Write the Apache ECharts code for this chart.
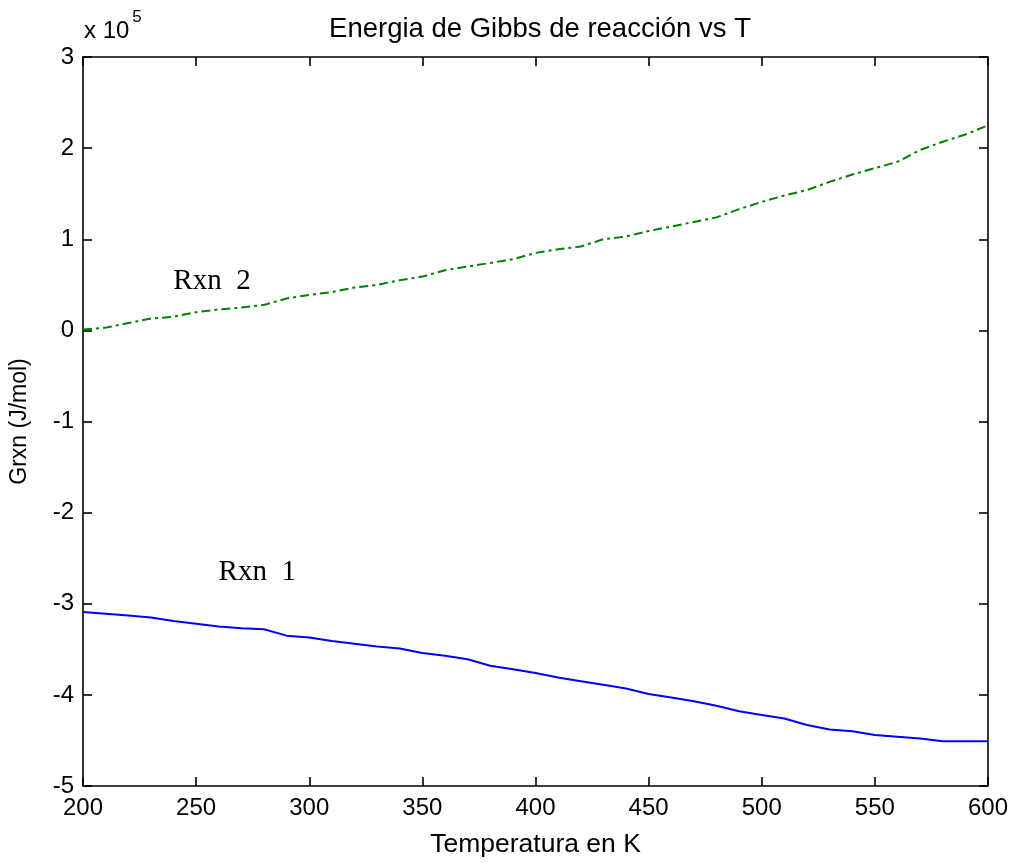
<!DOCTYPE html>
<html>
<head>
<meta charset="utf-8">
<script src="https://cdn.jsdelivr.net/npm/echarts@6/dist/echarts.min.js"></script>
<style>
html,body{margin:0;padding:0;background:#fff;}
#chart{width:1018px;height:863px;}
</style>
</head>
<body>
<div id="chart"></div>
<script>
// Temperatures (K)
var temps = [200,210,220,230,240,250,260,270,280,290,300,310,320,330,340,350,360,370,380,390,400,410,420,430,440,450,460,470,480,490,500,510,520,530,540,550,560,570,580,590,600];
// Rxn 2 Gibbs energy (x 10^5 J/mol)
var rxn2 = [0.01,0.03,0.08,0.13,0.15,0.20,0.23,0.25,0.28,0.35,0.39,0.42,0.47,0.50,0.55,0.59,0.66,0.70,0.74,0.78,0.85,0.89,0.92,1.00,1.03,1.09,1.14,1.19,1.24,1.33,1.41,1.48,1.54,1.63,1.71,1.78,1.85,1.98,2.07,2.15,2.25];
// Rxn 1 Gibbs energy (x 10^5 J/mol)
var rxn1 = [-3.09,-3.11,-3.13,-3.15,-3.19,-3.22,-3.25,-3.27,-3.28,-3.35,-3.37,-3.41,-3.44,-3.47,-3.49,-3.54,-3.57,-3.61,-3.68,-3.72,-3.76,-3.81,-3.85,-3.89,-3.93,-3.99,-4.03,-4.07,-4.12,-4.18,-4.22,-4.26,-4.33,-4.38,-4.40,-4.44,-4.46,-4.48,-4.51,-4.51,-4.51];
var scale = 1e5;
// Annotations [T, value(x10^5), text]
var annotations = [[257, 0.54, 'Rxn  2'], [277, -2.66, 'Rxn  1']];
var titleText = 'Energia de Gibbs de reacción vs T';
var xName = 'Temperatura en K';
var yName = 'Grxn (J/mol)';

function pairs(xs, ys){ return xs.map(function(x,i){ return [x, ys[i]*scale]; }); }

var font = 'Liberation Sans, Arial, sans-serif';
var axisCommon = {
  axisLine:{show:true, onZero:false, lineStyle:{color:'#000', width:1.6}},
  axisTick:{show:true, inside:true, length:9, lineStyle:{color:'#000', width:1.6}},
  splitLine:{show:false}
};
function xAx(pos, labels){
  return Object.assign({
    type:'value', position:pos, min:200, max:600, interval:50,
    axisLabel:{show:labels, color:'#000', fontSize:24, fontFamily:font, margin:10},
    name: labels ? xName : '', nameLocation:'middle', nameGap:45,
    nameTextStyle:{color:'#000', fontSize:26.5, fontFamily:font}
  }, axisCommon);
}
function yAx(pos, labels){
  return Object.assign({
    type:'value', position:pos, min:-5*scale, max:3*scale, interval:scale,
    axisLabel:{show:labels, color:'#000', fontSize:24, fontFamily:font, margin:9,
      formatter:function(v){ return String(Math.round(v/scale)); }},
    name: labels ? yName : '', nameLocation:'middle', nameGap:52, nameRotate:90,
    nameTextStyle:{color:'#000', fontSize:23, fontFamily:font}
  }, axisCommon);
}

var chart = echarts.init(document.getElementById('chart'), null, {renderer:'canvas'});
chart.setOption({
  backgroundColor:'#fff',
  animation:false,
  title:{
    text:titleText, left:535, top:10, textAlign:'center',
    textStyle:{color:'#000', fontSize:27.5, fontWeight:'normal', fontFamily:font}
  },
  grid:{left:82, top:57, right:30, bottom:73, containLabel:false},
  xAxis:[xAx('bottom', true), xAx('top', false)],
  yAxis:[yAx('left', true), yAx('right', false)],
  graphic:[{
    type:'text', left:84, top:9,
    style:{
      text:'{a|x 10}{s|5}',
      rich:{
        a:{fontSize:24, fontFamily:font, fill:'#000', verticalAlign:'bottom', padding:[13,0,0,0]},
        s:{fontSize:17, fontFamily:font, fill:'#000', verticalAlign:'top', padding:[3,0,10,3]}
      }
    }
  }],
  series:[
    {
      type:'line', data:pairs(temps, rxn1), showSymbol:false, symbol:'none',
      lineStyle:{color:'#0000ff', width:2}, xAxisIndex:0, yAxisIndex:0
    },
    {
      type:'line', data:pairs(temps, rxn2), showSymbol:false, symbol:'none',
      lineStyle:{color:'#008000', width:2, type:[9,4,3,4]}, xAxisIndex:0, yAxisIndex:0
    },
    {
      type:'scatter', symbolSize:0, xAxisIndex:0, yAxisIndex:0,
      data:annotations.map(function(a){ return {value:[a[0], a[1]*scale], name:a[2]}; }),
      label:{show:true, position:'inside', formatter:'{b}', color:'#000', opacity:1,
        fontSize:29, fontFamily:'Liberation Serif, Times New Roman, serif'},
      silent:true
    }
  ]
});
</script>
</body>
</html>
